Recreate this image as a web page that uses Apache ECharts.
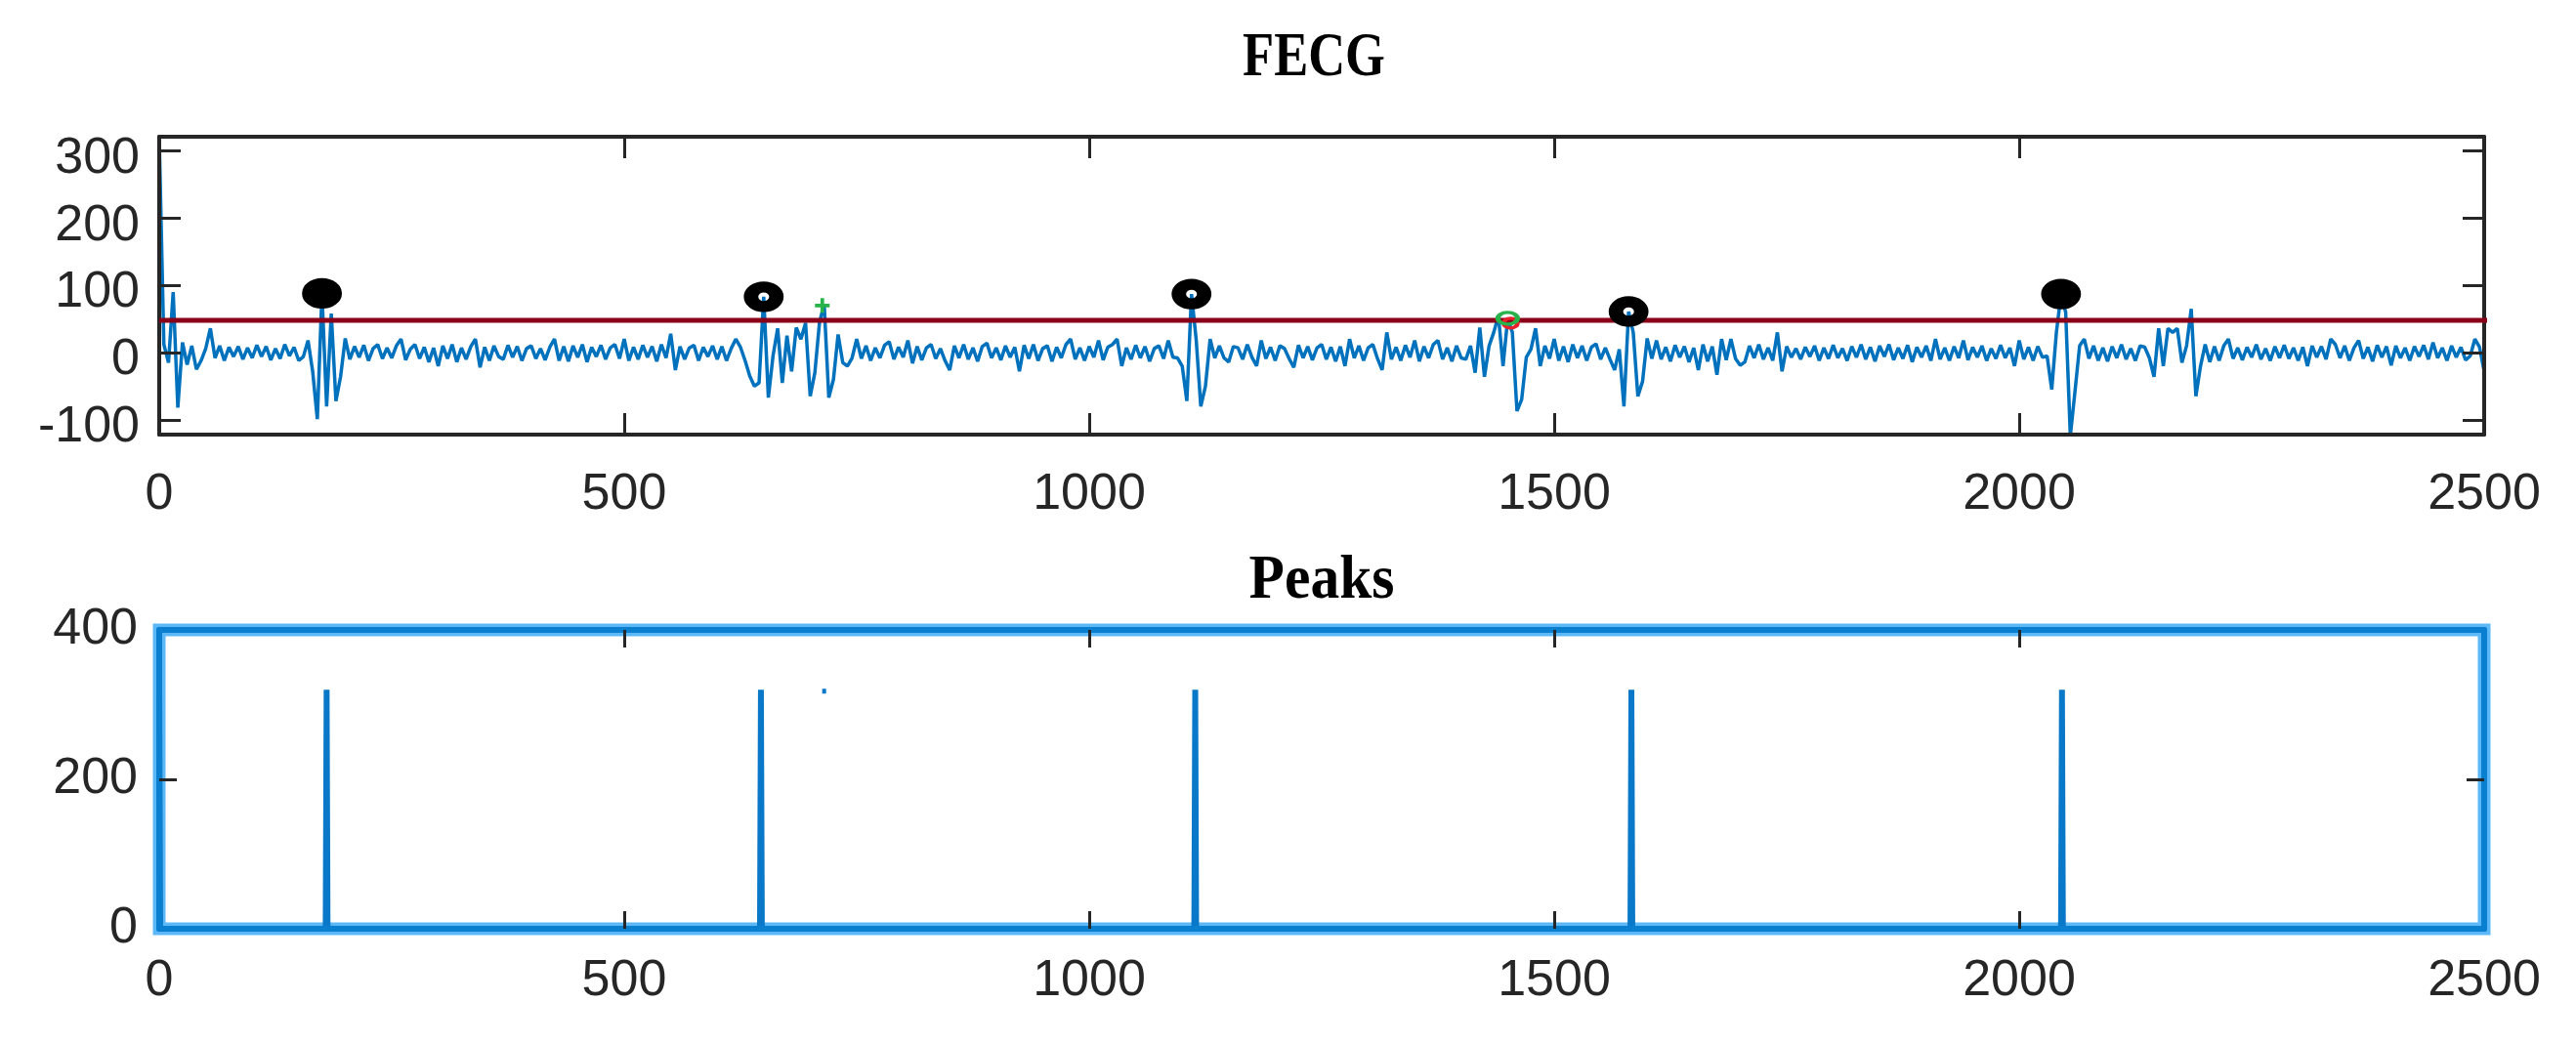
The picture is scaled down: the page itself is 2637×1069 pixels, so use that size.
<!DOCTYPE html>
<html>
<head>
<meta charset="utf-8">
<script src="https://cdn.jsdelivr.net/npm/echarts@6/dist/echarts.min.js"></script>
<style>
html,body{margin:0;padding:0;background:#ffffff;}
#chart{width:2637px;height:1069px;}
</style>
</head>
<body>
<div id="chart"></div>
<script>
// ---------------- data ----------------
const xTickValues = [0, 500, 1000, 1500, 2000, 2500];
const fecgTickValues = [-100, 0, 100, 200, 300];
const peaksTickValues = [0, 200, 400];

// FECG signal, one reading every 5 samples (sample 0 .. 2500)
const fecgSampleStep = 5;
const fecgValues = [
  320, 12, -15, 90, -82, 15, -18, 10, -25, -12, 6, 36, -8, 10, -12, 8, -6, 9, -10, 7,
  -8, 11, -6, 9, -11, 6, -9, 12, -5, 8, -12, -6, 18, -28, -99, 88, -80, 58, -72, -36,
  21, -10, 9, -7, 11, -12, 6, 12, -9, 7, -8, 10, 20, -11, 5, 12, -9, 8, -14, 7,
  -20, 10, -9, 12, -14, 7, -10, 9, 20, -22, 8, -12, 10, -6, -10, 11, -7, 9, -12, 6,
  10, -9, 6, -11, 8, 20, -12, 9, -13, 10, -7, 12, -14, 8, -6, 11, -10, 7, 12, -9,
  20, -12, 8, -10, 11, -7, 9, -13, 12, -8, 28, -26, 9, -10, 7, 11, -12, 8, -6, 10,
  -10, 9, -12, 6, 20, 8, -12, -35, -50, -45, 83, -67, -5, 36, -45, 25, -28, 37, 20, 44,
  -65, -30, 45, 72, -67, -40, 27, -15, -20, -8, 20, -9, 10, -12, 7, -8, 11, 16, -10, 8,
  -7, 18, -16, 9, -11, 7, 12, -9, 6, -12, -26, 10, -8, 12, -10, 7, -13, 9, 14, -8,
  7, -11, 10, -7, 8, -28, 11, -9, 12, -12, 6, 10, -13, 8, -8, 12, 20, -10, 7, -12,
  9, -7, 18, -11, 8, 12, 20, -20, 7, -10, 11, -8, 9, -13, 6, 10, -9, 18, -7, -8,
  -20, -72, 87, 20, -80, -50, 20, -8, 10, -8, -14, 9, 7, -10, 12, -7, -20, 18, -9, 8,
  -12, 10, 6, -9, -22, 11, -8, 9, -11, 7, 12, -10, 8, -13, 9, -20, 20, -8, 10, -12,
  7, 12, -9, -26, 30, -10, 8, -12, 11, -7, 18, -13, 9, -8, 12, 18, -10, 7, -13, 10,
  -8, -10, 10, -30, 37, -36, 10, 30, 55, -20, 51, 30, -87, -70, -7, 5, 36, -20, 10, -9,
  20, -12, 9, -14, 12, -8, 10, -12, 8, 13, -10, 7, -10, -26, 5, -80, 61, 30, -65, -43,
  21, -9, 18, -10, 8, -13, 11, -7, 9, -14, 7, -26, 12, -13, 9, -33, 20, -11, 20, -9,
  -19, -14, 10, -8, 12, -10, 7, -12, 30, -28, 9, -7, 6, -10, 8, -6, 10, -12, 7, -9,
  11, -8, 6, -12, 9, -7, 12, -10, 8, -13, 10, -6, 12, -11, 7, -9, 11, -14, 8, -7,
  10, -12, 20, -10, 7, -12, 9, -8, 18, -11, 8, -7, 10, -12, 6, -9, 11, -8, 7, -20,
  18, -10, 8, -12, 9, -7, -5, -55, 30, 87, 60, -124, -58, 10, 20, -9, 10, -12, 7, -13,
  9, -8, 12, -10, 6, -12, 10, 8, -8, -36, 36, -20, 36, 30, 36, -15, 10, 65, -65, -20,
  12, -14, 9, -12, 10, 20, -9, 7, -11, 8, -7, 12, -10, 6, -12, 9, -8, 11, -9, 7,
  -12, 8, -20, 10, -7, 9, -10, 20, 12, -8, 10, -12, 7, 18, -9, 8, -13, 11, -7, 9,
  -19, 10, -8, 7, -12, 9, -6, 11, -10, 15, -8, 7, -12, 10, -7, 8, -11, -5, 20, 8,
  -28
];

const thresholdValue = 48;
const thresholdSpan = [0, 2555];

// detected R peaks (black circles)
const rPeakX = [175, 650, 1110, 1580, 2045];
const rPeakY = [88, 83, 87, 61, 87];
// green "+" mark
const plusMarkX = [713];
const plusMarkY = [70];
// green / red mark
const mixedMarkX = [1450];
const mixedMarkY = [51];

// Peaks panel
const peakIdx = [0, 180, 647, 1114, 1583, 2046];
const peakAmp = [320, 320, 320, 320, 320, 320];
const peakDotX = [715];
const peakDotY = [318];

// ---------------- build ----------------
const fecgData = fecgValues.map((v, i) => [i * fecgSampleStep, v]);
const thresholdData = thresholdSpan.map(x => [x, thresholdValue]);
const peaksData = [];
peakIdx.forEach((x, i) => {
  if (x > 0) peaksData.push([x - 1, 0]);
  peaksData.push([x, peakAmp[i]]);
  peaksData.push([x + 1, 0]);
});
peaksData.push([2500, 0]);

const plain = v => String(v);
const labelFont = { color: '#262626', fontSize: 52, fontFamily: 'Liberation Sans, Arial, sans-serif', formatter: plain };
const darkAxis = { show: true, onZero: false, lineStyle: { color: '#262626', width: 4 } };
const blueAxis = { show: true, onZero: false, lineStyle: { color: '#0a7fd0', width: 6 } };
const tickStyle = (len, vals) => ({ show: true, inside: true, length: len, customValues: vals, lineStyle: { color: '#262626', width: 3 } });

const chart = echarts.init(document.getElementById('chart'), null, { renderer: 'canvas' });
chart.setOption({
  animation: false,
  backgroundColor: '#ffffff',
  graphic: [
    { type: 'text', x: 1345, y: 60, z: 10, scaleX: 0.82,
      style: { text: 'FECG', align: 'center', verticalAlign: 'middle', fill: '#000',
               font: 'bold 64px "Liberation Serif", "Times New Roman", serif' } },
    { type: 'text', x: 1353, y: 595, z: 10, scaleX: 0.93,
      style: { text: 'Peaks', align: 'center', verticalAlign: 'middle', fill: '#000',
               font: 'bold 64px "Liberation Serif", "Times New Roman", serif' } }
  ],
  grid: [
    { left: 163, top: 140, width: 2380, height: 305, show: false },
    { left: 163, top: 645, width: 2380, height: 306, show: true, borderWidth: 13, borderColor: '#5cb8f7', backgroundColor: 'transparent' }
  ],
  xAxis: [
    { gridIndex: 0, type: 'value', position: 'bottom', min: 0, max: 2500, z: 3,
      axisLine: darkAxis, axisTick: tickStyle(22, xTickValues.slice(1, -1)), splitLine: { show: false },
      axisLabel: Object.assign({ margin: 36, customValues: xTickValues }, labelFont) },
    { gridIndex: 0, type: 'value', position: 'top', min: 0, max: 2500, z: 3,
      axisLine: darkAxis, axisTick: tickStyle(22, xTickValues.slice(1, -1)), splitLine: { show: false },
      axisLabel: { show: false } },
    { gridIndex: 1, type: 'value', position: 'bottom', min: 0, max: 2500, z: 3,
      axisLine: blueAxis, axisTick: tickStyle(18, xTickValues.slice(1, -1)), splitLine: { show: false },
      axisLabel: Object.assign({ margin: 28, customValues: xTickValues }, labelFont) },
    { gridIndex: 1, type: 'value', position: 'top', min: 0, max: 2500, z: 3,
      axisLine: blueAxis, axisTick: tickStyle(18, xTickValues.slice(1, -1)), splitLine: { show: false },
      axisLabel: { show: false } }
  ],
  yAxis: [
    { gridIndex: 0, type: 'value', position: 'left', min: -122, max: 321, z: 3,
      axisLine: darkAxis, axisTick: tickStyle(22, fecgTickValues), splitLine: { show: false },
      axisLabel: Object.assign({ margin: 20, customValues: fecgTickValues, verticalAlign: 'top', lineHeight: 16 }, labelFont) },
    { gridIndex: 0, type: 'value', position: 'right', min: -122, max: 321, z: 3,
      axisLine: darkAxis, axisTick: tickStyle(22, fecgTickValues), splitLine: { show: false },
      axisLabel: { show: false } },
    { gridIndex: 1, type: 'value', position: 'left', min: 0, max: 400, z: 3,
      axisLine: blueAxis, axisTick: tickStyle(18, [200]), splitLine: { show: false },
      axisLabel: Object.assign({ margin: 22, customValues: peaksTickValues }, labelFont) },
    { gridIndex: 1, type: 'value', position: 'right', min: 0, max: 400, z: 3,
      axisLine: blueAxis, axisTick: tickStyle(18, [200]), splitLine: { show: false },
      axisLabel: { show: false } }
  ],
  series: [
    { name: 'FECG', type: 'line', xAxisIndex: 0, yAxisIndex: 0, data: fecgData, showSymbol: false, z: 2,
      lineStyle: { color: '#0072bd', width: 3.5 } },
    { name: 'threshold', type: 'line', xAxisIndex: 0, yAxisIndex: 0, data: thresholdData, showSymbol: false, clip: false, z: 4,
      lineStyle: { color: '#8a0018', width: 5 } },
    { name: 'R peaks', type: 'scatter', xAxisIndex: 0, yAxisIndex: 0, z: 5,
      symbol: 'circle', symbolSize: [26, 20],
      data: rPeakX.map((x, i) => ({ value: [x, rPeakY[i]], itemStyle: (i === 0 || i === rPeakX.length - 1) ? { color: '#000' } : undefined })),
      itemStyle: { color: 'rgba(0,0,0,0)', borderColor: '#000', borderWidth: 13, opacity: 1 } },
    { name: 'plus', type: 'scatter', xAxisIndex: 0, yAxisIndex: 0, z: 5,
      symbol: 'path://M3,0H5V3H8V5H5V8H3V5H0V3H3Z', symbolSize: [15, 15],
      data: plusMarkX.map((x, i) => [x, plusMarkY[i]]),
      itemStyle: { color: '#27b34a', opacity: 1 } },
    { name: 'mixed-red', type: 'scatter', xAxisIndex: 0, yAxisIndex: 0, z: 5,
      symbol: 'circle', symbolSize: [14, 10], symbolOffset: [3, 5],
      data: mixedMarkX.map((x, i) => [x, mixedMarkY[i]]),
      itemStyle: { color: 'rgba(0,0,0,0)', borderColor: '#e8202a', borderWidth: 4, opacity: 1 } },
    { name: 'mixed-green', type: 'scatter', xAxisIndex: 0, yAxisIndex: 0, z: 6,
      symbol: 'circle', symbolSize: [20, 12],
      data: mixedMarkX.map((x, i) => [x, mixedMarkY[i]]),
      itemStyle: { color: 'rgba(0,0,0,0)', borderColor: '#27b34a', borderWidth: 4, opacity: 1 } },
    { name: 'Peaks', type: 'line', xAxisIndex: 2, yAxisIndex: 2, data: peaksData, showSymbol: false, z: 2,
      lineStyle: { color: '#0a78c8', width: 6 } },
    { name: 'peak dots', type: 'scatter', xAxisIndex: 2, yAxisIndex: 2, z: 2,
      symbol: 'rect', symbolSize: [4, 5],
      data: peakDotX.map((x, i) => [x, peakDotY[i]]),
      itemStyle: { color: '#0a78c8', opacity: 1 } }
  ]
});
</script>
</body>
</html>
